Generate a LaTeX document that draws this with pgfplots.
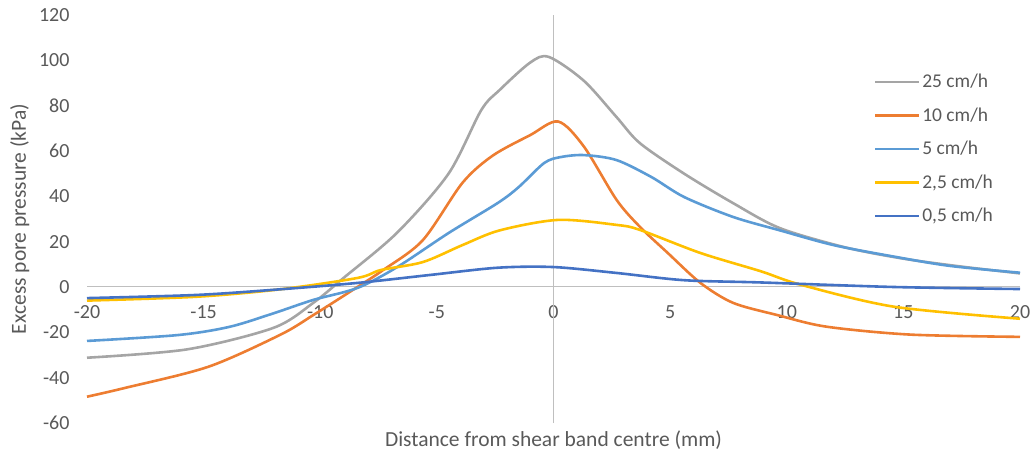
\documentclass[border=0pt]{standalone}
\usepackage{pgfplots}
\pgfplotsset{compat=1.18}
\usepackage{fontspec}
\setmainfont{Carlito}
\definecolor{cGray}{HTML}{A5A5A5}
\definecolor{cOrange}{HTML}{ED7D31}
\definecolor{cBlue}{HTML}{5B9BD5}
\definecolor{cGold}{HTML}{FFC000}
\definecolor{cDark}{HTML}{4472C4}
\definecolor{cText}{HTML}{595959}
\definecolor{cAxis}{HTML}{BFBFBF}
\begin{document}
\begin{tikzpicture}
\useasboundingbox (0,0) rectangle (1034bp,454bp);
\begin{axis}[
  at={(87bp,31bp)}, anchor=south west,
  scale only axis, width=933bp, height=408bp,
  xmin=-20, xmax=20, ymin=-60, ymax=120,
  axis x line*=middle, axis y line*=left,
  hide obscured x ticks=false,
  x axis line style={draw=cAxis, line width=1bp, -},
  y axis line style={draw=none},
  xtick={-20,-15,...,20}, ytick={-60,-40,...,120},
  major tick length=0pt,
  extra x ticks={0}, extra x tick labels={},
  extra x tick style={grid=major, major grid style={draw=cAxis, line width=1bp}},
  /pgf/number format/assume math mode=true,
  font=\fontsize{20bp}{24bp}\selectfont,
  every tick label/.append style={text=cText, font=\fontsize{20bp}{24bp}\selectfont},
  yticklabel style={anchor=east, xshift=-14bp},
  xticklabel style={anchor=north, yshift=-15bp},
  xlabel={Distance from shear band centre (mm)},
  ylabel={Excess pore pressure (kPa)},
  xlabel style={at={(axis description cs:0.5,-0.042)}, anchor=center, text=cText, font=\fontsize{21.5bp}{25bp}\selectfont},
  ylabel style={at={(axis description cs:-0.072,0.5)}, anchor=center, rotate=0, text=cText, font=\fontsize{21.5bp}{25bp}\selectfont},
  legend style={draw=none, fill=none, at={(axis description cs:0.843,0.86)}, anchor=north west,
    row sep=14.5bp, font=\fontsize{19.5bp}{23bp}\selectfont, text=cText, inner sep=0pt},
  legend cell align=left,
  legend image code/.code={\draw[#1] (0bp,0bp) -- (44bp,0bp);},
  every axis plot/.append style={line width=2.6bp, smooth, tension=0.5, no markers},
  clip=false,
]
\addplot[cGray] coordinates {(-20,-31.2) (-15.7,-27.5) (-12,-18) (-10.3,-7) (-9,4) (-6.7,24) (-4.5,50) (-3.1,78) (-2.3,87) (-1,99) (-0.2,101.5) (1.3,91) (2.7,75) (3.7,63.5) (5.6,50) (7.7,37) (9.7,26) (12.5,17.5) (15,12.5) (17.5,9) (20,6)};
\addlegendentry{25 cm/h}
\addplot[cOrange] coordinates {(-20,-48.4) (-18.4,-44.6) (-14.8,-35.2) (-11.7,-21) (-10.3,-12.4) (-8.8,-2.6) (-7.3,7.5) (-5.6,20.7) (-3.9,46) (-2.6,58) (-1,67) (0.2,73) (1.3,62) (2.7,38.5) (3.7,26.6) (4.9,15) (6.3,1.8) (7.7,-7) (9.6,-12.4) (11.7,-17.5) (15.3,-21) (20,-22)};
\addlegendentry{10 cm/h}
\addplot[cBlue] coordinates {(-20,-23.8) (-16.1,-21.2) (-13.9,-17.6) (-12,-11.6) (-10.3,-5.7) (-8.4,-0.4) (-6.7,8.8) (-4.5,23.8) (-2.4,37) (-1.5,44) (-0.4,54.7) (0.3,57.3) (1.3,58.2) (2.7,56) (4.2,48.5) (5.6,39.7) (7.7,30.9) (9.7,25) (12,18.5) (14.6,13.4) (17,9.3) (20,6.3)};
\addlegendentry{5 cm/h}
\addplot[cGold] coordinates {(-20,-6) (-15.3,-4.3) (-11.7,-1) (-8.4,4) (-7.4,7.5) (-5.6,11) (-3.9,18.5) (-2.3,25) (0.2,29.6) (2.7,27.4) (3.7,25.2) (6.3,15) (8.9,6.9) (10.6,1) (14.6,-8.7) (20,-14)};
\addlegendentry{2,5 cm/h}
\addplot[cDark] coordinates {(-20,-4.9) (-15.3,-3.5) (-11.7,-1) (-8.4,1.8) (-5.3,5.3) (-2.4,8.5) (0,8.8) (2.7,6.2) (5.6,3) (8.9,2) (14.6,0) (20,-0.9)};
\addlegendentry{0,5 cm/h}
\end{axis}
\end{tikzpicture}
\end{document}
